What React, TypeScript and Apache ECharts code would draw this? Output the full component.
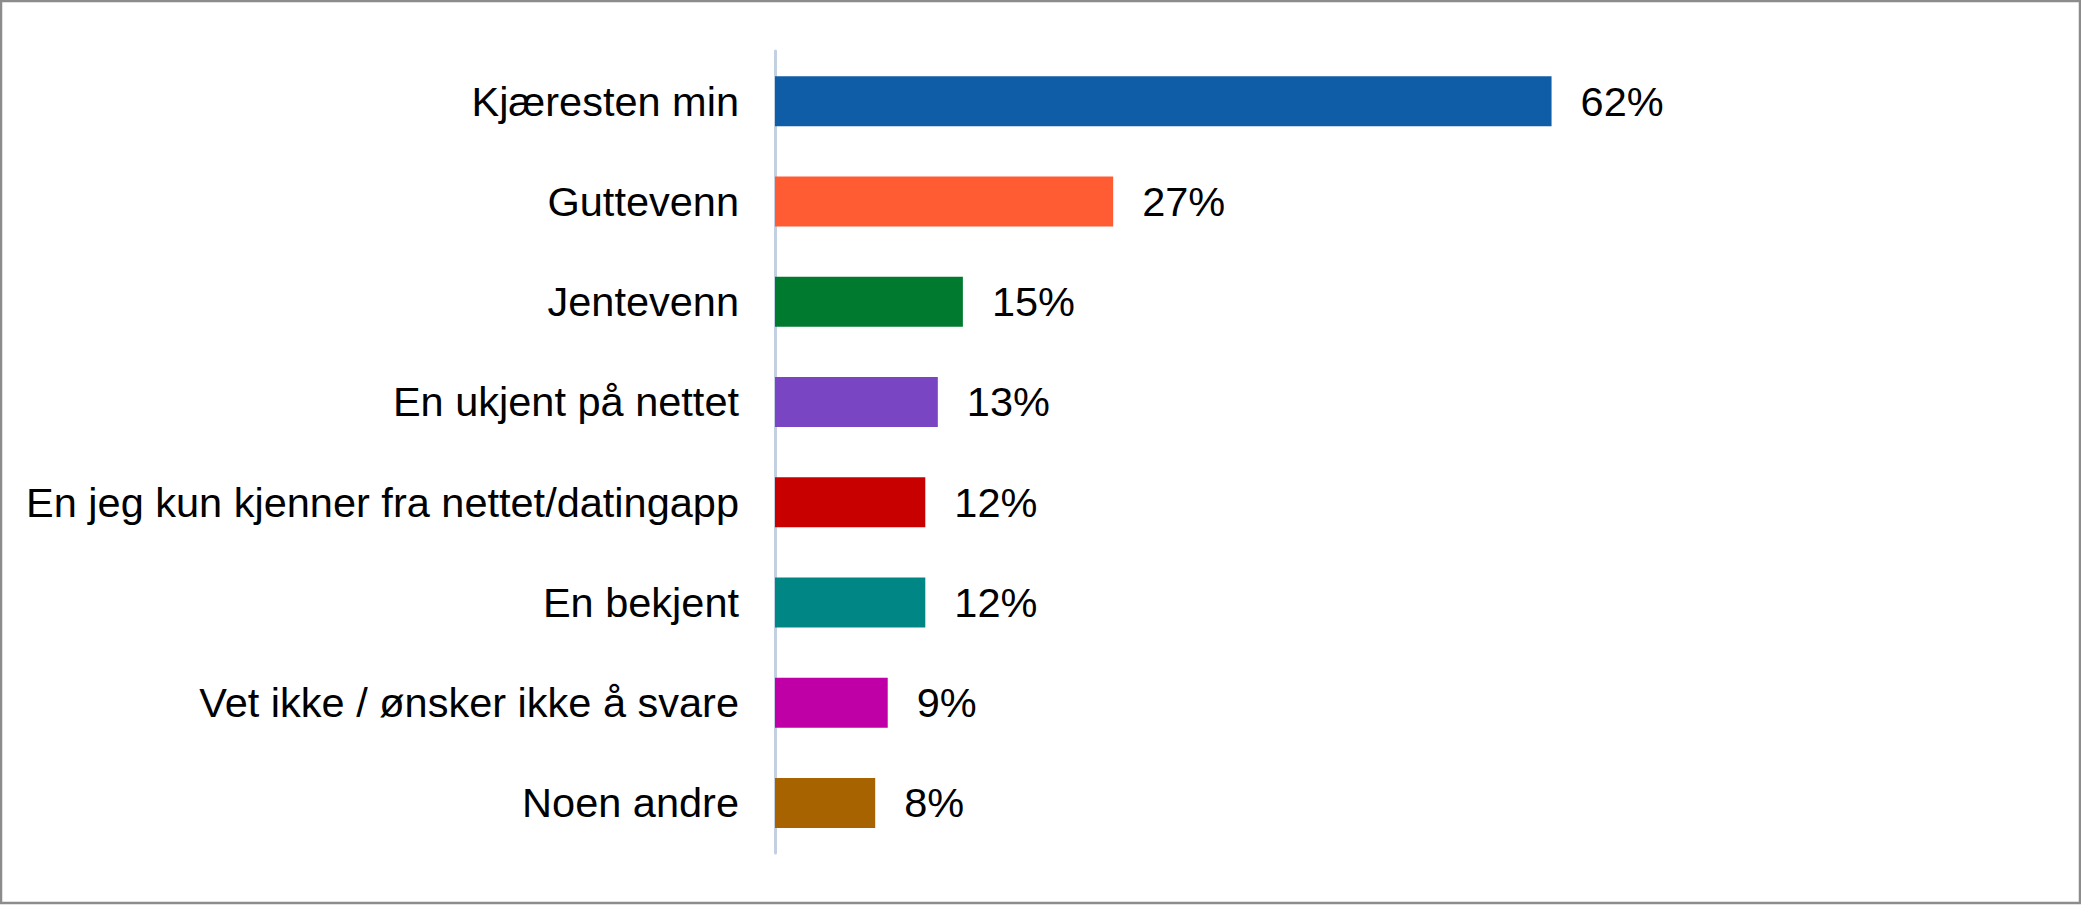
import React, { useEffect, useRef } from "react";
import * as echarts from "echarts";

const categories = [
  "Kjæresten min",
  "Guttevenn",
  "Jentevenn",
  "En ukjent på nettet",
  "En jeg kun kjenner fra nettet/datingapp",
  "En bekjent",
  "Vet ikke / ønsker ikke å svare",
  "Noen andre",
];
const values = [62, 27, 15, 13, 12, 12, 9, 8];
const colors = ["#0F5DA6", "#FF5C33", "#007A2E", "#7A45C2", "#C80000", "#008785", "#BF00A6", "#A66300"];

export default function App() {
  const ref = useRef<HTMLDivElement>(null);
  useEffect(() => {
    document.body.style.margin = "0";
    const chart = echarts.init(ref.current!, null, { renderer: "svg" });
    chart.setOption({
      animation: false,
      backgroundColor: "#ffffff",
      textStyle: { fontFamily: "Liberation Sans, Arial, sans-serif" },
      grid: { left: 775, right: 304, top: 51, bottom: 52, containLabel: false },
      xAxis: {
        type: "value",
        min: 0,
        max: 80,
        show: false,
      },
      yAxis: {
        type: "category",
        data: categories,
        inverse: true,
        axisLine: { show: true, lineStyle: { color: "#C3D0E2", width: 3 } },
        axisTick: { show: false },
        axisLabel: {
          fontSize: 41.5,
          color: "#000000",
          margin: 36,
          fontFamily: "Liberation Sans, Arial, sans-serif",
        },
      },
      series: [
        {
          type: "bar",
          data: values.map((v, i) => ({ value: v, itemStyle: { color: colors[i] } })),
          barWidth: 50,
          label: {
            show: true,
            position: "right",
            distance: 29,
            formatter: "{c}%",
            fontSize: 41.5,
            color: "#000000",
            fontFamily: "Liberation Sans, Arial, sans-serif",
          },
        },
      ],
      graphic: [
        {
          type: "rect",
          shape: { x: 1, y: 1, width: 2079, height: 902 },
          style: { fill: "none", stroke: "#8C8C8C", lineWidth: 2.5 },
          silent: true,
          z: 100,
        },
      ],
    });
    return () => chart.dispose();
  }, []);
  return <div ref={ref} style={{ width: 2081, height: 905 }} />;
}
